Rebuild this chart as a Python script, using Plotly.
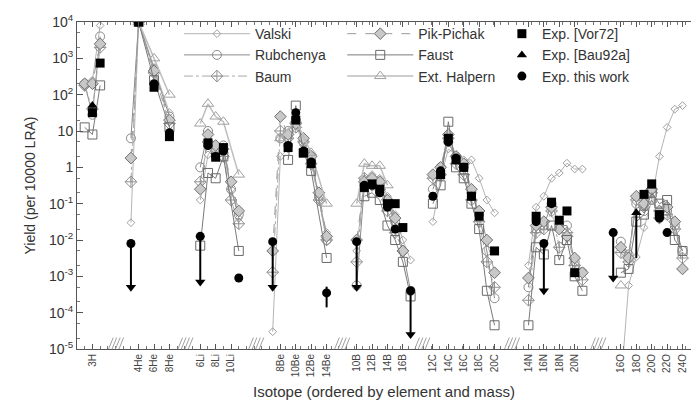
import plotly.graph_objects as go

# ---------------- isotopes (element, mass number) ----------------
elements = ["H", "H", "H",
            "He", "He", "He", "He",
            "Li", "Li", "Li", "Li", "Li", "Li",
            "Be", "Be", "Be", "Be", "Be", "Be", "Be", "Be",
            "B", "B", "B", "B", "B", "B", "B", "B",
            "C", "C", "C", "C", "C", "C", "C", "C", "C",
            "N", "N", "N", "N", "N", "N", "N", "N",
            "O", "O", "O", "O", "O", "O", "O", "O", "O", "O"]
masses = [1, 2, 3,
          3, 4, 6, 8,
          6, 7, 8, 9, 10, 11,
          7, 8, 9, 10, 11, 12, 13, 14,
          10, 11, 12, 13, 14, 15, 16, 17,
          12, 13, 14, 15, 16, 17, 18, 19, 20,
          14, 15, 16, 17, 18, 19, 20, 21,
          15, 16, 17, 18, 19, 20, 21, 22, 23, 24]

# axis slot offset of each element block (layout of the broken axis)
group_offset = {"H": 0, "He": 4, "Li": 10, "Be": 18.4, "B": 26.3,
                "C": 34.2, "N": 44.6, "O": 54.6}

# tick labels
tick_elements = ["H", "He", "He", "He", "Li", "Li", "Li", "Be", "Be", "Be", "Be",
                 "B", "B", "B", "B", "C", "C", "C", "C", "C",
                 "N", "N", "N", "N", "O", "O", "O", "O", "O"]
tick_masses = [2, 4, 6, 8, 6, 8, 10, 8, 10, 12, 14,
               10, 12, 14, 16, 12, 14, 16, 18, 20,
               14, 16, 18, 20, 16, 18, 20, 22, 24]
tick_text = ["3H", "4He", "6He", "8He", "6Li", "8Li", "10Li", "8Be", "10Be", "12Be", "14Be",
             "10B", "12B", "14B", "16B", "12C", "14C", "16C", "18C", "20C",
             "14N", "16N", "18N", "20N", "16O", "18O", "20O", "22O", "24O"]

N = None
# ---------------- yields (per 10000 LRA) ----------------
valski = [160, 250, 8000,
          0.03, 1e4, 560, 32,
          0.126, 2.2, 4, 2.5, 0.25, 0.04,
          3e-5, 2, 3.2, 16, 4, 1.6, 0.126, 0.016,
          5e-3, 0.5, 0.63, 0.5, 0.16, 0.05, 0.01, 2.8e-3,
          0.032, 0.5, 3.2, 2.2, 1.6, 1.6, 0.5, 0.126, 0.056,
          2e-3, 0.08, 0.16, 0.5, 0.7, 1.3, 0.9, 0.9,
          N, 1e-6, 5.6e-4, 3.4e-3, 0.022, 0.126, 2, 12.6, 40, 50]
rubchenya = [200, 28, 4000,
             6.3, 1e4, 500, 25,
             1, 10, 3.2, 4, 0.25, 0.05,
             N, 6.3, 10, 20, 5, 2, 0.16, 0.01,
             5.6e-4, 0.32, 0.4, 0.32, 0.1, 0.032, 5e-3, 4e-4,
             0.25, 1, 5, 2, 1, 0.2, 0.05, 5e-3, 2.5e-4,
             5e-4, 0.02, 0.025, 0.1, 0.025, 0.025, 2.5e-3, 1.3e-3,
             N, 9e-3, 4e-3, 0.1, 0.063, 0.126, 0.05, 0.063, 0.025, 5e-3]
baum = [180, 40, 2000,
        0.4, 1e4, 400, 16,
        0.4, 5, 2.8, 2, 0.126, 0.028,
        1.3e-3, 10, 6.3, 12.6, 5, 1.26, 0.126, 0.01,
        2.5e-3, 0.5, 0.32, 0.25, 0.063, 0.016, 5e-3, N,
        0.5, 0.63, 6.3, 1.26, 0.63, 0.126, 0.032, 2.5e-3, 5e-4,
        2.2e-4, 0.016, 0.02, 0.063, 6.3e-3, 0.016, 2e-3, 8e-4,
        N, 4.5e-3, 2.5e-3, 0.126, 0.08, 0.2, 0.04, 0.05, 0.02, 3.2e-3]
pik_pichak = [200, 200, 2500,
              1.8, 1e4, 450, 20,
              0.25, 8, 4, 3.2, 0.4, 0.063,
              5e-3, 25, 8, 16, 6.3, 2, 0.2, 0.0126,
              0.01, 0.4, 0.5, 0.4, 0.126, 0.04, 5e-3, N,
              0.63, 1, 8, 2, 1.26, 0.25, 0.063, 0.01, 1.26e-3,
              9e-4, 0.025, 0.032, 0.08, 0.02, 0.0126, 3.2e-3, 1.26e-3,
              N, 6.3e-3, 3.2e-3, 0.16, 0.1, 0.25, 0.063, 0.08, 0.032, 1.6e-3]
faust = [12.6, 8, 180,
         N, 1e4, 250, 12.6,
         7e-3, 0.7, 0.5, 2, N, 5e-3,
         N, N, 1.6, 50, 2.5, 0.8, N, 3.2e-3,
         N, 0.16, 0.2, 0.126, 0.025, 0.01, 2.5e-3, 2.8e-4,
         0.1, 0.32, 18, 1, 0.5, 0.1, 0.02, 4e-4, 4.5e-5,
         4.5e-5, 6.3e-3, 4e-3, 0.025, 2.8e-3, 0.01, 1e-3, 4e-4,
         N, 1.26e-3, 1.6e-3, 0.032, 0.05, 0.2, 0.1, 0.126, 0.01, 5e-3]
ext_halpern = [N, N, N,
               N, 1e4, 1000, 100,
               16, 56, 25, 18, N, 0.63,
               N, 6.3, N, 20, N, 2.5, N, 0.1,
               0.1, 1.26, 1.1, 1.1, 0.32, N, N, N,
               N, N, N, N, N, N, N, N, N,
               N, N, N, N, N, N, N, N,
               N, 5.6e-4, N, N, N, N, N, N, N, N]
exp_vor72 = [N, 32, 740,
             N, 1e4, 160, 7,
             N, 4.7, 1.9, 3.5, N, N,
             N, N, 3.5, 20, 2.5, 1.26, N, N,
             N, 0.28, 0.35, 0.25, 0.1, 0.1, 0.022, N,
             N, 0.63, 6.3, 1.6, 1.0, 0.16, 0.045, N, 5e-3,
             N, 0.045, N, 0.11, 0.035, 0.063, 1.26e-3, N,
             N, N, N, N, 0.18, 0.35, 0.05, N, N, N]
exp_bau92a = [N, 50, N,
              N, N, N, N,
              N, N, N, N, N, N,
              N, N, N, N, N, N, N, N,
              N, N, N, N, N, N, N, N,
              N, N, N, N, N, N, N, N, N,
              N, N, N, N, N, N, N, N,
              N, N, N, 0.056, N, N, N, N, N, N]
exp_bau92a_low = [N, N, N,
                  N, N, N, N,
                  N, N, N, N, N, N,
                  N, N, N, N, N, N, N, N,
                  N, N, N, N, N, N, N, N,
                  N, N, N, N, N, N, N, N, N,
                  N, N, N, N, N, N, N, N,
                  N, N, N, 3.2e-3, N, N, N, N, N, N]
exp_this_work = [N, N, N,
                 8e-3, 1e4, 200, 9,
                 0.0126, 4, 2, 2.8, N, 9e-4,
                 9e-3, N, 4, 32, 2.8, 1.4, N, 3.5e-4,
                 9e-3, 0.32, 0.32, 0.2, 0.08, 0.02, N, 4e-4,
                 0.16, 0.8, 5, 1.8, 1, 0.16, N, N, N,
                 N, 0.032, 8e-3, 0.1, N, N, N, N,
                 0.016, N, N, N, N, N, 0.04, 0.016, N, N]
# lower end of the bar (arrow end for upper limits)
exp_this_work_low = [N, N, N,
                     5e-4, N, N, N,
                     7e-4, N, N, N, N, N,
                     5e-4, N, N, N, N, N, N, 1.4e-4,
                     5e-4, N, N, N, N, N, N, 2.5e-5,
                     N, N, N, N, N, N, N, N, N,
                     N, N, 4e-4, N, N, N, N, N,
                     9e-4, N, N, N, N, N, N, N, N, N]
exp_this_work_high = [N, N, N,
                      N, N, N, N,
                      N, N, N, N, N, N,
                      N, N, N, N, N, N, N, 5.2e-4,
                      N, N, N, N, N, N, N, N,
                      N, N, N, N, N, N, N, N, N,
                      N, N, N, N, N, N, N, N,
                      N, N, N, N, N, N, N, N, N, N]
upper_limit = [False, False, False,
               True, False, False, False,
               True, False, False, False, False, False,
               True, False, False, False, False, False, False, False,
               True, False, False, False, False, False, False, True,
               False, False, False, False, False, False, False, False, False,
               False, False, True, False, False, False, False, False,
               True, False, False, False, False, False, False, False, False, False]

ytick_vals = [1e-5, 1e-4, 1e-3, 1e-2, 1e-1, 1, 10, 1e2, 1e3, 1e4]
ytick_text = ["10<sup>-5</sup>", "10<sup>-4</sup>", "10<sup>-3</sup>", "10<sup>-2</sup>",
              "10<sup>-1</sup>", "1", "10", "10<sup>2</sup>", "10<sup>3</sup>", "10<sup>4</sup>"]

# ---------------- helpers ----------------
xpos = [m + group_offset[e] for e, m in zip(elements, masses)]
tick_pos = [m + group_offset[e] for e, m in zip(tick_elements, tick_masses)]


def series_xy(vals, *extra):
    xs, ys = [], []
    ex = [[] for _ in extra]
    prev = None
    for i, (e, x, v) in enumerate(zip(elements, xpos, vals)):
        if v is None:
            continue
        if prev is not None and e != prev:
            xs.append(None)
            ys.append(None)
            for lst in ex:
                lst.append(None)
        xs.append(x)
        ys.append(v)
        for lst, src in zip(ex, extra):
            lst.append(src[i])
        prev = e
    return xs, ys, ex


fig = go.Figure()

theory = [
    ("Valski", valski, dict(color="#b4b4b4", width=1, dash="solid"),
     dict(symbol="diamond-open", size=6, color="#a0a0a0", line=dict(width=1)), "legend"),
    ("Rubchenya", rubchenya, dict(color="#8a8a8a", width=1, dash="solid"),
     dict(symbol="circle-open", size=9, color="#8a8a8a", line=dict(width=1)), "legend"),
    ("Baum", baum, dict(color="#a8a8a8", width=1, dash="dashdot"),
     dict(symbol="diamond-cross-open", size=9, color="#909090", line=dict(width=1)), "legend"),
    ("Pik-Pichak", pik_pichak, dict(color="#9a9a9a", width=1, dash="dash"),
     dict(symbol="diamond", size=9, color="#c8c8c8", line=dict(width=1, color="#707070")), "legend2"),
    ("Faust", faust, dict(color="#7a7a7a", width=1, dash="solid"),
     dict(symbol="square-open", size=9, color="#6a6a6a", line=dict(width=1)), "legend2"),
    ("Ext. Halpern", ext_halpern, dict(color="#bdbdbd", width=1.5, dash="solid"),
     dict(symbol="triangle-up-open", size=10, color="#a0a0a0", line=dict(width=1)), "legend2"),
]
for name, vals, line, marker, lg in theory:
    xs, ys, _ = series_xy(vals)
    fig.add_trace(go.Scatter(x=xs, y=ys, mode="lines+markers", name=name,
                             line=line, marker=marker, legend=lg,
                             connectgaps=False))

# Exp. [Vor72]
xs, ys, _ = series_xy(exp_vor72)
fig.add_trace(go.Scatter(x=xs, y=ys, mode="markers", name="Exp. [Vor72]",
                         marker=dict(symbol="square", size=9, color="black"),
                         legend="legend3"))

# Exp. [Bau92a]
xs, ys, (lo,) = series_xy(exp_bau92a, exp_bau92a_low)
minus = [(v - l) if (v is not None and l is not None) else 0 for v, l in zip(ys, lo)]
fig.add_trace(go.Scatter(x=xs, y=ys, mode="markers", name="Exp. [Bau92a]",
                         marker=dict(symbol="triangle-up", size=9, color="black"),
                         error_y=dict(type="data", symmetric=False, array=[0] * len(ys),
                                      arrayminus=minus, color="black", thickness=2, width=0),
                         legend="legend3"))

# Exp. this work
xs, ys, (lo, hi, lim) = series_xy(exp_this_work, exp_this_work_low, exp_this_work_high, upper_limit)
minus = [(v - l) if (v is not None and l is not None) else 0 for v, l in zip(ys, lo)]
plus = [(h - v) if (v is not None and h is not None) else 0 for v, h in zip(ys, hi)]
fig.add_trace(go.Scatter(x=xs, y=ys, mode="markers", name="Exp. this work",
                         marker=dict(symbol="circle", size=9, color="black"),
                         error_y=dict(type="data", symmetric=False, array=plus,
                                      arrayminus=minus, color="black", thickness=2, width=0),
                         legend="legend3"))
# arrow heads of the upper limits
ax_, ay_ = [], []
for x, l, f in zip(xs, lo, lim):
    if f:
        ax_.append(x)
        ay_.append(l)
fig.add_trace(go.Scatter(x=ax_, y=ay_, mode="markers", showlegend=False, hoverinfo="skip",
                         marker=dict(symbol="triangle-down", size=9, color="black")))

# axis-break hatches between element blocks
shapes = []
blocks = []
for e, x in zip(elements, xpos):
    if not blocks or blocks[-1][0] != e:
        blocks.append([e, x, x])
    else:
        blocks[-1][2] = x
for a, b in zip(blocks[:-1], blocks[1:]):
    mid = (a[2] + b[1]) / 2
    for k in range(4):
        x0 = mid - 0.9 + k * 0.45
        shapes.append(dict(type="line", xref="x", yref="paper", x0=x0, x1=x0 + 0.6,
                           y0=0.0, y1=0.035, line=dict(color="#a0a0a0", width=1)))

font_family = "Liberation Sans, Arial, sans-serif"
legend_common = dict(orientation="v", xanchor="left", yanchor="top", y=1.012,
                     bgcolor="rgba(0,0,0,0)", font=dict(size=14, color="#333333"),
                     tracegroupgap=0)
fig.update_layout(
    width=691, height=407,
    margin=dict(l=77, r=0, t=22, b=58),
    paper_bgcolor="white", plot_bgcolor="white",
    font=dict(family=font_family, size=14, color="#333333"),
    shapes=shapes,
    showlegend=True,
    legend=dict(x=0.166, itemwidth=66, **legend_common),
    legend2=dict(x=0.432, itemwidth=66, **legend_common),
    legend3=dict(x=0.692, itemwidth=30, **legend_common),
    xaxis=dict(range=[0, 79.7], tickmode="array", tickvals=tick_pos, ticktext=tick_text,
               tickangle=-90, tickfont=dict(size=10, color="#444444"),
               ticks="inside", ticklen=5, tickcolor="#555555",
               minor=dict(tickmode="linear", tick0=0, dtick=1, ticks="inside",
                          ticklen=3, tickcolor="#777777", showgrid=False),
               showline=True, linecolor="#555555", linewidth=1, mirror="ticks",
               showgrid=False, zeroline=False,
               title=dict(text="Isotope (ordered by element and mass)", standoff=10,
                          font=dict(size=15, color="#333333"))),
    yaxis=dict(type="log", range=[-5, 4], tickmode="array", tickvals=ytick_vals,
               ticktext=ytick_text, tickfont=dict(size=14, color="#333333"),
               ticks="inside", ticklen=6, tickcolor="#555555",
               minor=dict(ticks="inside", ticklen=3, tickcolor="#777777", showgrid=False),
               showline=True, linecolor="#555555", linewidth=1,
               showgrid=False, zeroline=False,
               title=dict(text="Yield (per 10000 LRA)", standoff=10,
                          font=dict(size=14, color="#333333"))),
)

fig.write_html("out.html")
